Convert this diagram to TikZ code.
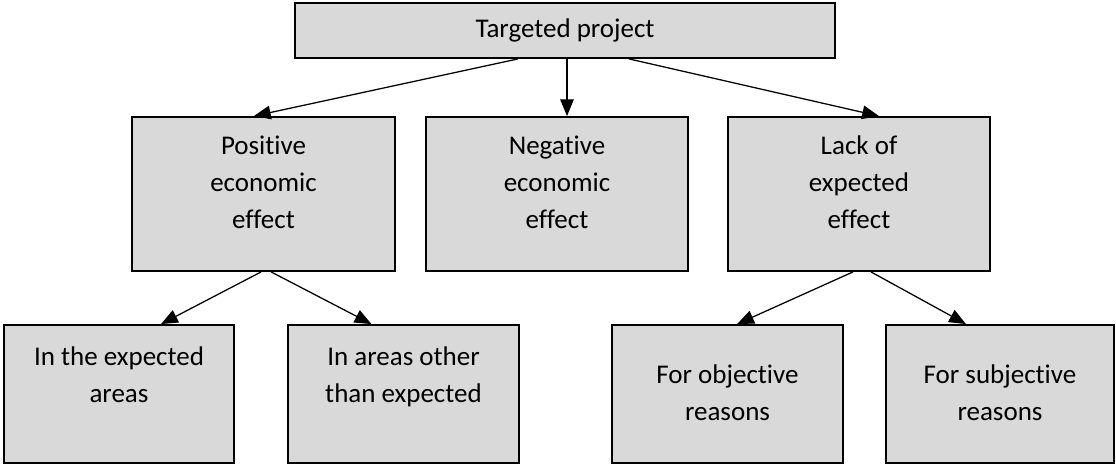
\documentclass[tikz,border=0pt]{standalone}
\usepackage{fontspec}
\setmainfont{Carlito}[RawFeature={-liga;-clig;-calt;-dlig}]
\usepackage{tikz}
\usepackage{xcolor}
\usetikzlibrary{
    arrows.meta,
    positioning
}
\definecolor{boxgrey}{HTML}{D9D9D9}
\definecolor{dark}{HTML}{000000}
\tikzset{
    % Grey box style, width given as argument
    block/.style={
        rectangle,
        minimum width=#1,
        inner sep=0pt,
        draw=dark,
        fill=boxgrey,
        line width=1.3pt
    },
    % Box heights per tier
    root block/.style={block=#1, minimum height=1.375cm, font=\fontsize{19.2}{26.5}\selectfont},
    mid block/.style={block=#1, minimum height=3.85cm},
    leaf block/.style={block=#1, minimum height=3.45cm},
    % Text inside the boxes
    box text/.style={
        font=\fontsize{19.2}{26.5}\selectfont,
        align=center,
        inner sep=0pt,
        text=dark
    },
    % Arrow style
    link/.style={
        -{Triangle[length=4.2mm, width=3.4mm]},
        line width=0.9pt,
        color=dark
    }
}

\begin{document}
\begin{tikzpicture}
    \useasboundingbox (0,0) rectangle (27.9,11.625);

    % Root
    \node[root block=13.5cm] (project) at (14.125,10.8625) {Targeted project};

    % Second tier
    \node[mid block=6.575cm] (positive) at (6.5875,6.775) {};
    \node[mid block=6.55cm] (negative) at (13.925,6.775) {};
    \node[mid block=6.55cm] (lack) at (21.475,6.775) {};
    \node[box text, below=0.48cm of positive.north] (positiveText) {Positive\\economic\\effect};
    \node[box text, below=0.48cm of negative.north] (negativeText) {Negative\\economic\\effect};
    \node[box text, below=0.48cm of lack.north] (lackText) {Lack of\\expected\\effect};

    % Third tier
    \node[leaf block=5.75cm] (expected) at (2.975,1.775) {};
    \node[leaf block=5.775cm] (other) at (10.0875,1.775) {};
    \node[leaf block=5.775cm] (objective) at (18.1875,1.775) {};
    \node[leaf block=5.7cm] (subjective) at (25.0,1.775) {};
    \node[box text, below=0.55cm of expected.north] (expectedText) {In the expected\\areas};
    \node[box text, below=0.55cm of other.north] (otherText) {In areas other\\than expected};
    \node[box text, below=1.0cm of objective.north] (objectiveText) {For objective\\reasons};
    \node[box text, below=1.0cm of subjective.north] (subjectiveText) {For subjective\\reasons};

    % Arrows from the root
    \draw[link] ([xshift=-1.175cm]project.south) -- ([xshift=-0.24cm]positive.north);
    \draw[link] ([xshift=0.05cm]project.south) -- ([xshift=0.05cm]project.south |- negative.north);
    \draw[link] ([xshift=1.6cm]project.south) -- ([xshift=0.5cm]lack.north);

    % Arrows to the third tier
    \draw[link] ([xshift=-0.06cm]positive.south) -- ([xshift=1.05cm]expected.north);
    \draw[link] ([xshift=0.19cm]positive.south) -- ([xshift=-0.8cm]other.north);
    \draw[link] ([xshift=-0.15cm]lack.south) -- ([xshift=0.24cm]objective.north);
    \draw[link] ([xshift=0.3cm]lack.south) -- ([xshift=-0.85cm]subjective.north);
\end{tikzpicture}
\end{document}
